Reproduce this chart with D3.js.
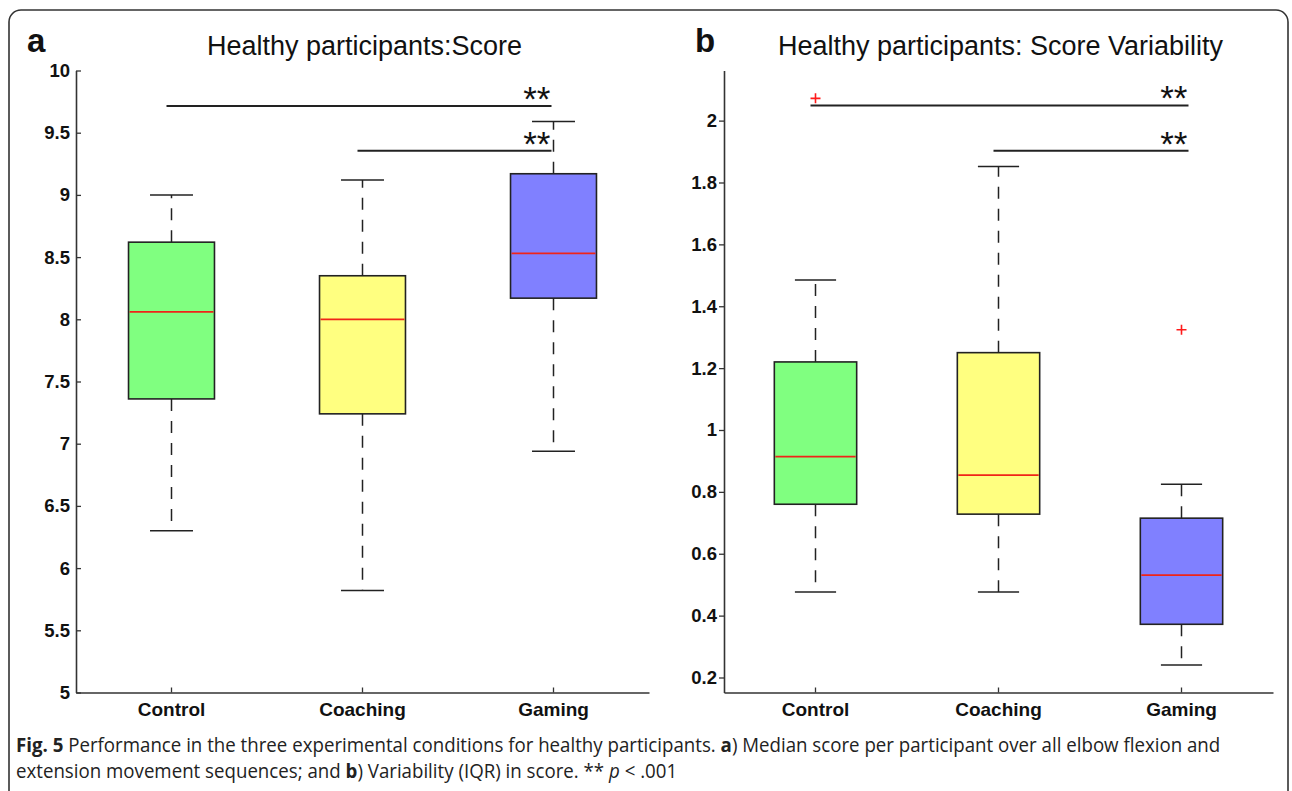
<!DOCTYPE html>
<html>
<head>
<meta charset="utf-8">
<script src="https://cdnjs.cloudflare.com/ajax/libs/d3/7.8.5/d3.min.js"></script>
<style>
  html, body { margin: 0; padding: 0; background: #fff; }
  svg { display: block; }
</style>
</head>
<body>
<div id="chart"></div>
<script>
const width = 1292, height = 791;
const axis_color = "#333", box_stroke = "#222", median_color = "#f02418",
    font_sans = "'Liberation Sans', Arial, sans-serif",
    box_fill = ["#80ff80", "#ffff80", "#8080ff"];

// conditions on the x axis
const categories = ["Control", "Coaching", "Gaming"];

// panel a: median score per participant
const score_lo = [6.30, 5.82, 6.94];
const score_q1 = [7.36, 7.24, 8.17];
const score_med = [8.06, 8.00, 8.53];
const score_q3 = [8.62, 8.35, 9.17];
const score_hi = [9.00, 9.12, 9.59];
const score_ticks = [5, 5.5, 6, 6.5, 7, 7.5, 8, 8.5, 9, 9.5, 10];
const score_sig = [
    {from: "Control", to: "Gaming", y: 9.715},
    {from: "Coaching", to: "Gaming", y: 9.355}
];

// panel b: variability (IQR) in score
const var_lo = [0.476, 0.476, 0.240];
const var_q1 = [0.760, 0.728, 0.372];
const var_med = [0.914, 0.854, 0.531];
const var_q3 = [1.220, 1.250, 0.715];
const var_hi = [1.485, 1.852, 0.825];
const var_out_cat = ["Control", "Gaming"];
const var_out_val = [2.072, 1.324];
const var_ticks = [0.2, 0.4, 0.6, 0.8, 1, 1.2, 1.4, 1.6, 1.8, 2];
const var_sig = [
    {from: "Control", to: "Gaming", y: 2.049},
    {from: "Coaching", to: "Gaming", y: 1.903}
];

const svg = d3.select("#chart").append("svg")
    .attr("width", width)
    .attr("height", height);

// rounded frame, open at the bottom edge of the picture
svg.append("rect")
    .attr("x", 9).attr("y", 10)
    .attr("width", 1279).attr("height", 840)
    .attr("rx", 12)
    .attr("fill", "none")
    .attr("stroke", "#333")
    .attr("stroke-width", 1.6);

function drawPanel(cfg) {
    let g = svg.append("g");

    let x = d3.scaleBand()
        .domain(categories)
        .range([cfg.x0, cfg.x1]);
    let cx = d => x(d) + x.bandwidth() / 2;

    let y = d3.scaleLinear()
        .domain(cfg.ydomain)
        .range([692.5, 70.5]);

    let boxW = x.bandwidth() * 0.45, capW = boxW / 2;

    // axes
    let yAxis = g.append("g")
        .attr("transform", "translate(" + cfg.x0 + ",0)")
        .call(d3.axisLeft(y)
            .tickValues(cfg.ticks)
            .tickFormat(d3.format("~g"))
            .tickSize(cfg.tickIn ? -5 : 5)
            .tickSizeOuter(0)
            .tickPadding(cfg.tickIn ? 6 : 2));

    let xAxis = g.append("g")
        .attr("transform", "translate(0,692.5)")
        .call(d3.axisBottom(x)
            .tickSize(-5)
            .tickSizeOuter(0)
            .tickPadding(10));

    [yAxis, xAxis].forEach(ax => {
        ax.select(".domain").attr("stroke", axis_color).attr("stroke-width", 1.6);
        ax.selectAll(".tick line").attr("stroke", axis_color).attr("stroke-width", 1.3);
        ax.selectAll("text")
            .attr("fill", "#111")
            .attr("font-family", font_sans)
            .attr("font-weight", "bold");
    });
    yAxis.selectAll("text").attr("font-size", 18.5);
    xAxis.selectAll("text").attr("font-size", 19);

    let rows = categories.map((c, i) => ({
        cat: c, lo: cfg.lo[i], q1: cfg.q1[i], med: cfg.med[i], q3: cfg.q3[i], hi: cfg.hi[i], fill: box_fill[i]
    }));

    let box = g.append("g").selectAll("g")
        .data(rows)
        .enter()
        .append("g");

    // dashed whiskers
    box.append("line")
        .attr("x1", d => cx(d.cat)).attr("x2", d => cx(d.cat))
        .attr("y1", d => y(d.q3)).attr("y2", d => y(d.hi))
        .attr("stroke", box_stroke).attr("stroke-width", 1.5)
        .attr("stroke-dasharray", "12,10");
    box.append("line")
        .attr("x1", d => cx(d.cat)).attr("x2", d => cx(d.cat))
        .attr("y1", d => y(d.q1)).attr("y2", d => y(d.lo))
        .attr("stroke", box_stroke).attr("stroke-width", 1.5)
        .attr("stroke-dasharray", "12,10");

    // caps
    box.selectAll(".cap")
        .data(d => [d.hi, d.lo].map(v => ({cat: d.cat, v: v})))
        .enter()
        .append("line")
        .attr("class", "cap")
        .attr("x1", d => cx(d.cat) - capW / 2).attr("x2", d => cx(d.cat) + capW / 2)
        .attr("y1", d => y(d.v)).attr("y2", d => y(d.v))
        .attr("stroke", box_stroke).attr("stroke-width", 1.5);

    box.append("rect")
        .attr("x", d => cx(d.cat) - boxW / 2)
        .attr("width", boxW)
        .attr("y", d => y(d.q3))
        .attr("height", d => y(d.q1) - y(d.q3))
        .attr("fill", d => d.fill)
        .attr("stroke", box_stroke)
        .attr("stroke-width", 1.6);

    box.append("line")
        .attr("x1", d => cx(d.cat) - boxW / 2 + 1).attr("x2", d => cx(d.cat) + boxW / 2 - 1)
        .attr("y1", d => y(d.med)).attr("y2", d => y(d.med))
        .attr("stroke", median_color).attr("stroke-width", 1.8);

    // outliers
    if (cfg.outCat) {
        let pts = cfg.outCat.map((c, i) => ({cat: c, v: cfg.outVal[i]}));
        g.append("g").selectAll("path")
            .data(pts)
            .enter()
            .append("path")
            .attr("transform", d => "translate(" + cx(d.cat) + "," + y(d.v) + ")")
            .attr("d", "M-5,0H5M0,-5V5")
            .attr("stroke", "#ff1a1a")
            .attr("stroke-width", 1.6)
            .attr("fill", "none");
    }

    // significance bars
    let sig = g.append("g").selectAll("g")
        .data(cfg.sig)
        .enter()
        .append("g");
    sig.append("line")
        .attr("x1", d => cx(d.from) - 5)
        .attr("x2", d => cx(d.to) + cfg.sigEnd)
        .attr("y1", d => y(d.y)).attr("y2", d => y(d.y))
        .attr("stroke", "#222").attr("stroke-width", 2);
    sig.append("text")
        .attr("x", d => cx(d.to) + cfg.sigEnd - 1)
        .attr("y", d => y(d.y) + 5)
        .attr("text-anchor", "end")
        .attr("font-family", font_sans)
        .attr("font-size", 35)
        .attr("fill", "#111")
        .text("**");

    // title and panel letter
    svg.append("text")
        .attr("x", (cfg.x0 + cfg.x1) / 2 + 2)
        .attr("y", 55)
        .attr("text-anchor", "middle")
        .attr("font-family", font_sans)
        .attr("font-size", 27)
        .attr("fill", "#111")
        .text(cfg.title);
    svg.append("text")
        .attr("x", cfg.letterX)
        .attr("y", 52)
        .attr("font-family", font_sans)
        .attr("font-weight", "bold")
        .attr("font-size", 33)
        .attr("fill", "#111")
        .text(cfg.letter);
}

drawPanel({
    x0: 76, x1: 649, ydomain: [5, 10], ticks: score_ticks, tickIn: true,
    lo: score_lo, q1: score_q1, med: score_med, q3: score_q3, hi: score_hi,
    sig: score_sig, sigEnd: -2,
    title: "Healthy participants:Score", letter: "a", letterX: 27
});

drawPanel({
    x0: 724, x1: 1273, ydomain: [0.1515, 2.162], ticks: var_ticks, tickIn: false,
    lo: var_lo, q1: var_q1, med: var_med, q3: var_q3, hi: var_hi,
    outCat: var_out_cat, outVal: var_out_val,
    sig: var_sig, sigEnd: 7,
    title: "Healthy participants: Score Variability", letter: "b", letterX: 695
});

// caption: glyph height set by font size, then squeezed to the line width
const cap_font = "'Open Sans', 'Noto Sans', sans-serif", cap_size = 20;
let caption = svg.append("g");
let cap1 = caption.append("text")
    .attr("x", 0).attr("y", 752)
    .attr("font-family", cap_font)
    .attr("font-size", cap_size)
    .attr("fill", "#222");
cap1.append("tspan").attr("font-weight", "bold").text("Fig. 5");
cap1.append("tspan").text(" Performance in the three experimental conditions for healthy participants. ");
cap1.append("tspan").attr("font-weight", "bold").text("a");
cap1.append("tspan").text(") Median score per participant over all elbow flexion and");

let cap2 = caption.append("text")
    .attr("x", 0).attr("y", 778)
    .attr("font-family", cap_font)
    .attr("font-size", cap_size)
    .attr("fill", "#222");
cap2.append("tspan").text("extension movement sequences; and ");
cap2.append("tspan").attr("font-weight", "bold").text("b");
cap2.append("tspan").text(") Variability (IQR) in score. ** ");
cap2.append("tspan").attr("font-style", "italic").text("p");
cap2.append("tspan").text(" < .001");

let cap_len = cap1.node().getComputedTextLength();
let sx = (1221 - 16) / cap_len;
caption.attr("transform", "translate(16,0) scale(" + sx + ",1)");
</script>
</body>
</html>
